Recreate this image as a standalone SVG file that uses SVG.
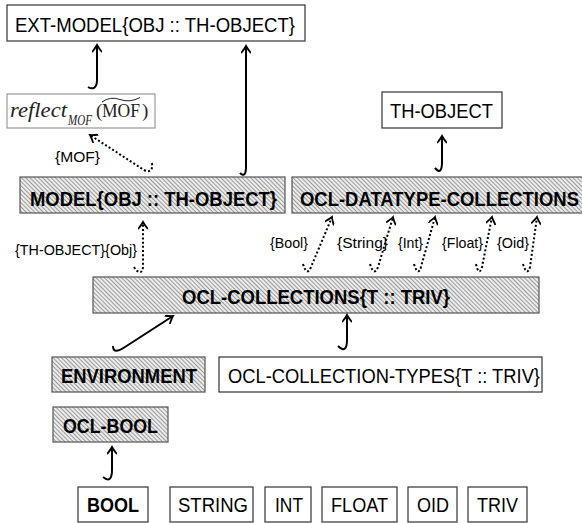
<svg xmlns="http://www.w3.org/2000/svg" width="582" height="523" viewBox="0 0 582 523">
<style>
.box{fill:#fff;stroke:#333;stroke-width:1.2}
.hbox{fill:url(#hatch);stroke:#555;stroke-width:1.2}
.t{font-family:"Liberation Sans",Arial,sans-serif;font-size:20.5px;fill:#000}
.b{font-weight:bold}
.lbl{font-family:"Liberation Sans",Arial,sans-serif;font-size:15px;fill:#000}
.c{fill:none;stroke:#000;stroke-width:2;marker-end:url(#ah)}
.d{stroke-dasharray:2 2.2}
.ser{font-family:"Liberation Serif","Times New Roman",serif;fill:#222}
</style>
<defs>
<pattern id="hatch" width="3" height="3" patternUnits="userSpaceOnUse" patternTransform="rotate(-45)">
<rect width="3" height="3" fill="#ececec"/>
<line x1="0.5" y1="0" x2="0.5" y2="3" stroke="#9a9a9a" stroke-width="1"/>
</pattern>
<marker id="ah" viewBox="-8 -5 10 10" refX="0" refY="0" markerWidth="10" markerHeight="10" markerUnits="userSpaceOnUse" orient="auto">
<path d="M-6.5,-4.5 Q-2,-1 0,0 Q-2,1 -6.5,4.5" fill="none" stroke="#000" stroke-width="1.8" stroke-linecap="round"/>
</marker>
</defs>

<g id="ext-model"><rect class="box" x="7" y="5" width="298" height="36"/><text class="t" x="15" y="31.5" textLength="280" lengthAdjust="spacingAndGlyphs">EXT-MODEL{OBJ :: TH-OBJECT}</text></g>

<g id="reflect"><rect x="7" y="94" width="148" height="34" fill="#fff" stroke="#999" stroke-width="1.2"/>
<text class="ser" x="10" y="117" font-style="italic" font-size="20" textLength="57" lengthAdjust="spacingAndGlyphs">reflect</text>
<text class="ser" x="68" y="125" font-style="italic" font-size="14" textLength="24" lengthAdjust="spacingAndGlyphs">MOF</text>
<text class="ser" x="96" y="117" font-size="19">(</text>
<text class="ser" x="102" y="117" font-size="19" textLength="38" lengthAdjust="spacingAndGlyphs">MOF</text>
<text class="ser" x="142" y="117" font-size="19">)</text>
<path d="M102,102 Q110,96 120,99.5 Q130,103 140,97.5" fill="none" stroke="#222" stroke-width="1"/></g>

<g id="model"><rect class="hbox" x="20" y="177" width="265" height="36"/><text class="t b" x="30" y="206" textLength="247" lengthAdjust="spacingAndGlyphs">MODEL{OBJ :: TH-OBJECT}</text></g>

<g id="ocl-datatype-collections"><rect class="hbox" x="292" y="177" width="300" height="36"/><text class="t b" x="300" y="206" textLength="279" lengthAdjust="spacingAndGlyphs">OCL-DATATYPE-COLLECTIONS</text></g>

<g id="th-object"><rect class="box" x="382" y="92" width="120" height="36"/><text class="t" x="390" y="118" textLength="103" lengthAdjust="spacingAndGlyphs">TH-OBJECT</text></g>

<g id="ocl-collections"><rect class="hbox" x="93" y="277" width="446" height="36"/><text class="t b" x="182" y="304" textLength="268" lengthAdjust="spacingAndGlyphs">OCL-COLLECTIONS{T :: TRIV}</text></g>

<g id="environment"><rect class="hbox" x="52" y="357" width="153" height="35"/><text class="t b" x="61" y="383" textLength="136" lengthAdjust="spacingAndGlyphs">ENVIRONMENT</text></g>

<g id="ocl-collection-types"><rect class="box" x="219" y="357" width="323" height="35"/><text class="t" x="228" y="383" textLength="312" lengthAdjust="spacingAndGlyphs">OCL-COLLECTION-TYPES{T :: TRIV}</text></g>

<g id="ocl-bool"><rect class="hbox" x="53" y="407" width="115" height="35"/><text class="t b" x="63" y="433" textLength="95" lengthAdjust="spacingAndGlyphs">OCL-BOOL</text></g>

<g id="bool"><rect class="box" x="78" y="487" width="70" height="35"/><text class="t b" x="87" y="512" textLength="52" lengthAdjust="spacingAndGlyphs">BOOL</text></g>
<g id="string"><rect class="box" x="170" y="487" width="83" height="35"/><text class="t" x="178" y="512" textLength="70" lengthAdjust="spacingAndGlyphs">STRING</text></g>
<g id="int"><rect class="box" x="265" y="487" width="46" height="35"/><text class="t" x="275" y="512" textLength="28" lengthAdjust="spacingAndGlyphs">INT</text></g>
<g id="float"><rect class="box" x="322" y="487" width="75" height="35"/><text class="t" x="331" y="512" textLength="57" lengthAdjust="spacingAndGlyphs">FLOAT</text></g>
<g id="oid"><rect class="box" x="408" y="487" width="49" height="35"/><text class="t" x="417" y="512" textLength="32" lengthAdjust="spacingAndGlyphs">OID</text></g>
<g id="triv"><rect class="box" x="468" y="487" width="59" height="35"/><text class="t" x="477" y="512" textLength="41" lengthAdjust="spacingAndGlyphs">TRIV</text></g>

<g id="connectors">
<path class="c" d="M88,87 C93,90 97,88 97,80 L97,45"/>
<path class="c" d="M240,173 C244,177 246,174 246,167 L246,46"/>
<path class="c" d="M435,168 C440,174 442,170 442,162 L442,136"/>
<path class="c" d="M338,346 C344,352 347,349 347,340 L347,315"/>
<path class="c" d="M103,477 C109,482 112,479 112,470 L112,447"/>
<path class="c" d="M113,346 Q113,355 125,347 L173,316"/>
<path class="c d" d="M152,163 C153,170 150,173 144,170 L90,135"/>
<path class="c d" d="M134,267 C138,274 143,274 143,266 L143,222"/>
<path class="c d" d="M303,264 Q307,277 311,267 L332,217"/>
<path class="c d" d="M370,264 Q374,277 378,267 L393,217"/>
<path class="c d" d="M414,264 Q418,277 421,267 L435,217"/>
<path class="c d" d="M476,264 Q479,277 482,267 L492,217"/>
<path class="c d" d="M523,264 Q527,277 530,267 L537,217"/>
</g>

<g id="labels">
<text class="lbl" x="55" y="162" textLength="45" lengthAdjust="spacingAndGlyphs">{MOF}</text>
<text class="lbl" x="15" y="255" textLength="122" lengthAdjust="spacingAndGlyphs">{TH-OBJECT}{Obj}</text>
<text class="lbl" x="270" y="248" textLength="38" lengthAdjust="spacingAndGlyphs">{Bool}</text>
<text class="lbl" x="337" y="248" textLength="51" lengthAdjust="spacingAndGlyphs">{String}</text>
<text class="lbl" x="398" y="248" textLength="25" lengthAdjust="spacingAndGlyphs">{Int}</text>
<text class="lbl" x="442" y="248" textLength="41" lengthAdjust="spacingAndGlyphs">{Float}</text>
<text class="lbl" x="497" y="248" textLength="32" lengthAdjust="spacingAndGlyphs">{Oid}</text>
</g>
</svg>
